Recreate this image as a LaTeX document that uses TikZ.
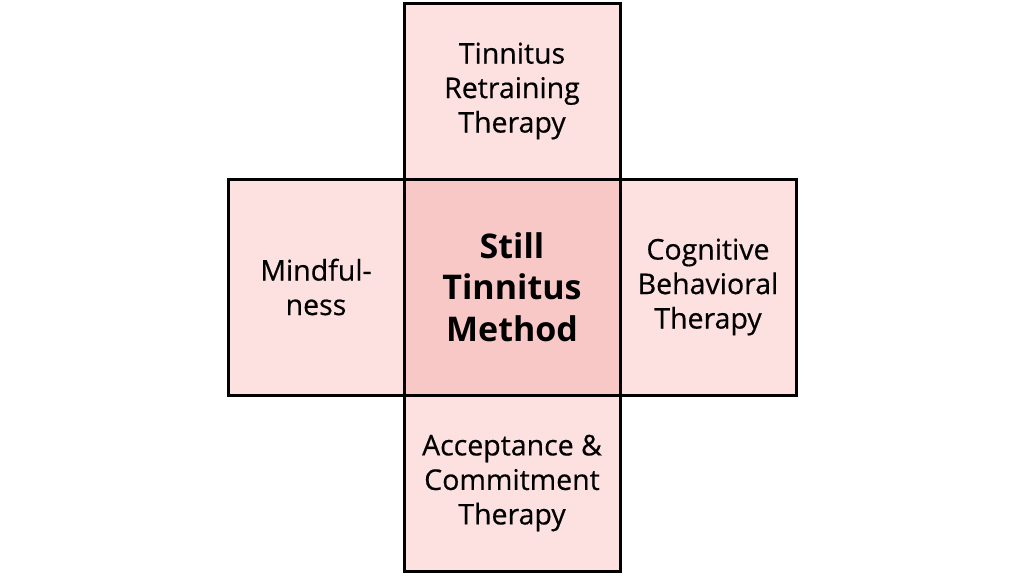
\documentclass[tikz,border=0pt]{standalone}
\usepackage{fontspec}
\setmainfont{Open Sans}
\newfontfamily\medfont{Open Sans}[FakeBold=0.5]
\usetikzlibrary{positioning}
\definecolor{petal}{HTML}{FDE0E0}
\definecolor{core}{HTML}{F7C8C6}
\tikzset{
  square/.style={draw=black,line width=3pt,fill=petal,minimum width=216pt,
    minimum height=216pt,inner sep=0pt,outer sep=0pt,align=center,
    font=\medfont\fontsize{28.5}{34.5}\selectfont},
  armv/.style={square,minimum height=176pt},
  armh/.style={square,minimum width=176pt},
  hub/.style={square,fill=core,font=\fontsize{34}{41.5}\selectfont\bfseries}
}
\begin{document}
\begin{tikzpicture}[x=1pt,y=-1pt]
  \useasboundingbox[fill=white](0,0) rectangle (1024,576);
  \node[hub] (stm) at (512,287){Still\\Tinnitus\\Method};
  \node[armv,above=0pt of stm] (trt){Tinnitus\\Retraining\\Therapy};
  \node[armv,below=0pt of stm] (act){Acceptance \&\\Commitment\\Therapy};
  \node[armh,left=0pt of stm] (mind){Mindful-\\ness};
  \node[armh,right=0pt of stm] (cbt){Cognitive\\Behavioral\\Therapy};
  % redraw the centre so its frame sits on top
  \draw[line width=3pt] (stm.north west) rectangle (stm.south east);
\end{tikzpicture}
\end{document}
